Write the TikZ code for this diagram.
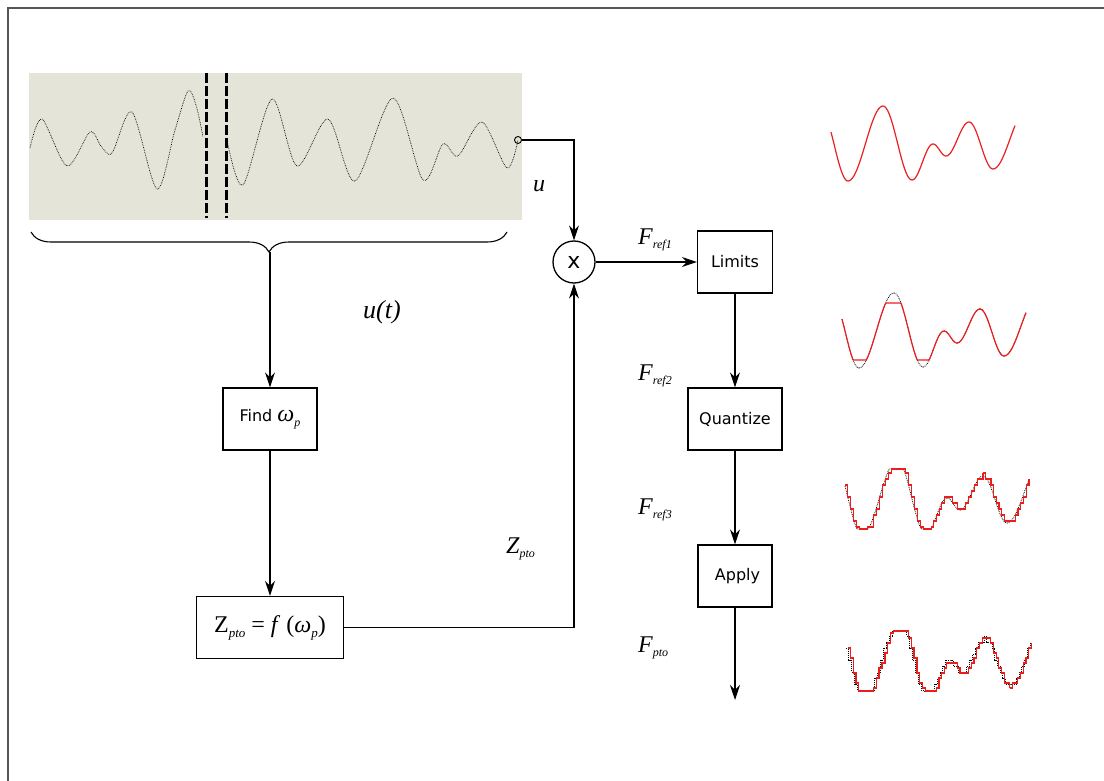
\documentclass[tikz,border=0pt]{standalone}
\usepackage{fontspec}
\setmainfont{Liberation Serif}
\setsansfont{DejaVu Sans}
\usepackage{tikz}
\usetikzlibrary{arrows.meta}
\usetikzlibrary{decorations.pathreplacing}
\usetikzlibrary{positioning}

\definecolor{panelbg}{RGB}{228,228,217}
\definecolor{framegray}{RGB}{85,85,85}
\definecolor{wavered}{RGB}{235,30,30}

% small lowered italic index
\newcommand\lowsub[2][12]{\raisebox{-0.45ex}{\fontsize{#1}{#1}\selectfont\itshape #2}}
% one half-cosine piece of the force wave
\newcommand\wy{(\ya+(\yb-\ya)*(1-cos(180*(\x-\xa)/(\xb-\xa)))/2)}
\newcommand\wavesegs{-10/-20/17/50/0/17, 17/50/52/-25/17/52, 52/-25/81/49/52/81,
  81/49/102/13/81/102, 102/13/115/25/102/115, 115/25/138/-9/115/138,
  138/-9/162/38/138/162, 162/38/196/-22/162/184}
\newcommand\drawwave[3]{%
  \foreach \xa/\ya/\xb/\yb/\xs/\xe in \wavesegs {
    \pgfmathtruncatemacro\ns{(\xe-\xs)/3+2}
    \draw[#1] plot[domain=\xs:\xe, samples=\ns, #3] (\x, {#2});
  }}

\begin{document}
\begin{tikzpicture}[x=1pt, y=-1pt,
  block/.style={draw, line width=1.3pt, minimum height=62pt, inner sep=0pt,
    font=\sffamily\fontsize{16}{19}\selectfont},
  lbl/.style={font=\fontsize{24}{28}\selectfont\itshape, inner sep=0pt, anchor=base west},
  link/.style={line width=1.1pt, -{Stealth[length=15pt,width=10pt]}}
]
  \useasboundingbox (0,0) rectangle (1104,781);
  \draw[framegray, line width=1.8pt] (8,781) -- (8,8) -- (1104,8);

  % input signal
  \fill[panelbg] (29,73) rectangle (522,220);
  \draw[densely dotted, line width=0.7pt] plot[smooth] coordinates {(30,148) (42,119) (67,166)
    (90,132) (101,146) (112,153) (132,112) (157,189) (175,130) (188,91) (196,105) (203,137)};
  \draw[densely dotted, line width=0.7pt] plot[smooth] coordinates {(227,140) (243,185) (272,99)
    (297,166) (328,119) (355,181) (393,98) (423,180) (443,144) (458,156) (482,122) (507,168) (518,140)};
  \foreach \lx in {206,226}
    \draw[line width=3pt, dash pattern=on 10pt off 3pt] (\lx,73) -- (\lx,218);
  \node[circle, draw, line width=0.9pt, inner sep=0pt, minimum size=7pt] (uout) at (518,140) {};

  \draw[decorate, decoration={brace, mirror, amplitude=20pt}, line width=1.1pt] (31,232) -- (507,232);
  \coordinate (brtip) at (270,252);

  % blocks
  \node[block, minimum width=94pt] (find) at (270,419)
    {Find {\rmfamily\itshape\fontsize{24}{26}\selectfont ω\lowsub[12]{p}}};
  \node[block, minimum width=147pt, font=\fontsize{24}{28}\selectfont] (zfun) at (270,627.5)
    {Z\lowsub[13]{pto} = \textit{f} (\textit{ω}\lowsub[13]{p})};
  \node[circle, draw, line width=1.3pt, minimum size=42pt, inner sep=0pt,
    font=\sffamily\fontsize{22}{24}\selectfont] (mult) at (574,262) {x};
  \node[block, minimum width=75pt] (lim) at (735,262) {Limits};
  \node[block, minimum width=94pt] (quant) at (735,419) {Quantize};
  \node[block, minimum width=74pt] (apply) at (735,576) {\hspace{5pt}Apply};
  \coordinate (fout) at (735,700);

  \draw[link] (uout) -| (mult);
  \draw[link] (brtip) -- (find);
  \draw[link] (find) -- (zfun);
  \draw[link] (zfun) -| (mult);
  \draw[link] (mult) -- (lim);
  \draw[link] (lim) -- (quant);
  \draw[link] (quant) -- (apply);
  \draw[link] (apply) -- (fout);

  % labels
  \node[lbl] (ulbl) at (533,192) {u};
  \node[lbl, font=\fontsize{26}{30}\selectfont\itshape] (utlbl) at (363,318) {u(t)};
  \node[lbl] (zlbl) at (506,553) {Z\lowsub{pto}};
  \node[lbl] (fref1) at (638,244) {F\lowsub{ref1}};
  \node[lbl] (fref2) at (638,380) {F\lowsub{ref2}};
  \node[lbl] (fref3) at (638,514) {F\lowsub{ref3}};
  \node[lbl] (fpto) at (638,652) {F\lowsub{pto}};

  % force waves
  \begin{scope}[shift={(831,131)}]
    \drawwave{wavered, line width=1.2pt}{\wy}{samples=25}
  \end{scope}
  \begin{scope}[shift={(842,318)}]
    \drawwave{densely dotted, line width=0.8pt}{\wy}{samples=25}
    \drawwave{wavered, line width=1.2pt}{max(-15,min(42,\wy))}{samples=40}
  \end{scope}
  \begin{scope}[shift={(845,485)}]
    \drawwave{densely dotted, line width=0.8pt}{max(-16,min(44,\wy))}{samples=40}
    \drawwave{wavered, line width=1.2pt}{max(-16,min(44,6*round(\wy/6)))}{const plot}
  \end{scope}
  \begin{scope}[shift={(846,648)}]
    \drawwave{densely dotted, line width=1pt}{max(-17,min(43,6*round(\wy/6)))}{const plot}
    \drawwave{wavered, line width=1.2pt, xshift=1.5pt}{max(-17,min(43,5*round(\wy/5)))}{const plot}
  \end{scope}
\end{tikzpicture}
\end{document}
